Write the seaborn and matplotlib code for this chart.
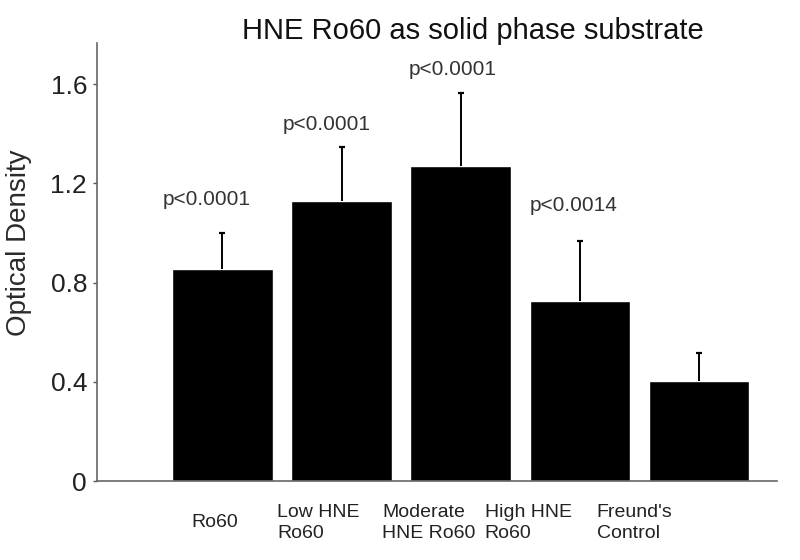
import numpy as np
import pandas as pd
import matplotlib
matplotlib.use("Agg")
import matplotlib.pyplot as plt
import seaborn as sns

# values
groups = ["Ro60", "Low HNE\nRo60", "Moderate\nHNE Ro60", "High HNE\nRo60", "Freund's\nControl"]
od_mean = [0.854, 1.130, 1.270, 0.724, 0.404]
od_err = [0.147, 0.216, 0.294, 0.242, 0.114]
p_labels = ["p<0.0001", "p<0.0001", "p<0.0001", "p<0.0014", ""]

sns.set_style("white")
plt.rcParams["font.family"] = ["Liberation Sans", "DejaVu Sans"]

df = pd.DataFrame({"group": groups, "od": od_mean})

fig = plt.figure(figsize=(8, 5.6), dpi=100)
ax = fig.add_axes([0.121, 0.141, 0.850, 0.782])

sns.barplot(data=df, x="group", y="od", color="black", saturation=1,
            width=0.845, errorbar=None, ax=ax)

# upper error bars only, with a small cap on top
xpos = np.arange(len(groups))
tops = np.array(od_mean) + np.array(od_err)
ax.vlines(xpos, od_mean, tops, color="black", lw=1.4)
ax.plot(xpos, tops, ls="none", marker="_", ms=5, mew=1.6, color="black")

# p-values above the error bars (small per-label nudges as in the original)
dx = [-0.13, -0.125, -0.07, -0.05, 0]
dy = [0.133, 0.089, 0.093, 0.145, 0]
for x, t, lab, ox, oy in zip(xpos, tops, p_labels, dx, dy):
    if lab:
        ax.text(x + ox, t + oy, lab, ha="center", va="center",
                fontsize=15, color="#333333")

ax.set_xlim(-1.054, 4.652)
ax.set_ylim(0, 1.765)
ax.set_yticks([0, 0.4, 0.8, 1.2, 1.6])
ax.set_yticklabels(["0", "0.4", "0.8", "1.2", "1.6"], fontsize=19, color="#222222")
ax.set_ylabel("Optical Density", fontsize=20, color="#2a2a2a")
ax.yaxis.set_label_coords(-0.096, 0.544)
ax.set_xlabel("")

# x labels are left aligned and shifted left of the bars in the original
ax.set_xticks([-0.26, 0.46, 1.34, 2.20, 3.14])
ax.set_xticklabels(groups, fontsize=14, color="#222222", ha="left", va="center",
                   multialignment="left", linespacing=1.3)
ax.tick_params(axis="x", length=0, pad=30)
ax.tick_params(axis="y", length=3, width=1, color="#555555", pad=4, left=True)

for side in ["top", "right"]:
    ax.spines[side].set_visible(False)
for side in ["left", "bottom"]:
    ax.spines[side].set_color("#666666")
    ax.spines[side].set_linewidth(1.2)

ax.set_title("HNE Ro60 as solid phase substrate", fontsize=21, x=0.553,
             pad=3, color="#111111")

fig.savefig("out.png", dpi=100)
